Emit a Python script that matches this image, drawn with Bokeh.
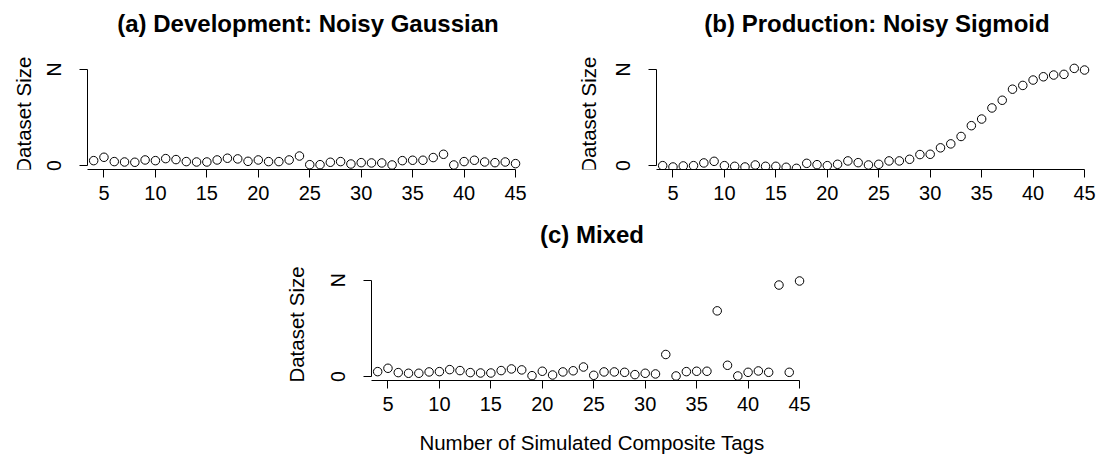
import math
from bokeh.plotting import figure
from bokeh.layouts import column, row
from bokeh.models import FixedTicker, Range1d, Label
from bokeh.embed import file_html
from bokeh.resources import INLINE

# ---- data (dataset size as fraction of N) ----
tags = [4, 5, 6, 7, 8, 9, 10, 11, 12, 13, 14, 15, 16, 17, 18, 19, 20, 21, 22, 23, 24,
        25, 26, 27, 28, 29, 30, 31, 32, 33, 34, 35, 36, 37, 38, 39, 40, 41, 42, 43, 44, 45]

gaussian = [0.052, 0.087, 0.042, 0.038, 0.035, 0.059, 0.052, 0.073, 0.063, 0.042, 0.038,
            0.038, 0.059, 0.077, 0.070, 0.045, 0.059, 0.042, 0.042, 0.059, 0.100, 0.010,
            0.010, 0.035, 0.042, 0.017, 0.031, 0.028, 0.028, 0.007, 0.052, 0.056, 0.056,
            0.084, 0.118, 0.007, 0.042, 0.056, 0.038, 0.031, 0.038, 0.021]

sigmoid = [0.000, -0.014, -0.003, 0.000, 0.028, 0.045, 0.000, -0.007, -0.014, 0.007, -0.007,
           -0.007, -0.017, -0.028, 0.024, 0.010, 0.000, 0.014, 0.049, 0.031, 0.007, 0.014,
           0.049, 0.049, 0.066, 0.115, 0.118, 0.185, 0.226, 0.303, 0.415, 0.484, 0.599,
           0.679, 0.794, 0.833, 0.889, 0.923, 0.941, 0.948, 1.010, 0.993]

mixed = [0.052, 0.087, 0.042, 0.035, 0.035, 0.049, 0.052, 0.073, 0.063, 0.042, 0.038,
         0.038, 0.063, 0.080, 0.070, 0.010, 0.056, 0.017, 0.049, 0.061, 0.100, 0.014,
         0.049, 0.049, 0.045, 0.021, 0.035, 0.028, 0.230, 0.007, 0.052, 0.056, 0.056,
         0.683, 0.118, 0.007, 0.045, 0.059, 0.045, 0.951, 0.045, 0.993]

x_ticks = [5, 10, 15, 20, 25, 30, 35, 40, 45]
y_ticks = [0, 1]
y_tick_labels = {0: "0", 1: "N"}

titles = ["(a) Development: Noisy Gaussian", "(b) Production: Noisy Sigmoid", "(c) Mixed"]
y_label = "Dataset Size"
x_label = "Number of Simulated Composite Tags"

FONT = "Liberation Sans"
X_RANGE = (3.4, 46.26)
X_MID = (3.4 + 46.26) / 2


def make_panel(title, ys, width, height, left, right, bottom, y_top, title_y):
    p = figure(width=width, height=height, output_backend="svg", toolbar_location=None,
               x_range=Range1d(*X_RANGE), y_range=Range1d(-0.04, y_top),
               min_border_left=left, min_border_right=right,
               min_border_top=0, min_border_bottom=bottom)
    p.outline_line_color = None
    p.grid.visible = False
    p.background_fill_color = "white"
    p.border_fill_color = "white"

    p.scatter(tags, ys, marker="circle", size=8.5, fill_color=None,
              line_color="black", line_width=1)

    p.add_layout(Label(x=X_MID, y=title_y, text=title, text_align="center",
                       text_baseline="middle", text_font=FONT,
                       text_font_size="24px", text_font_style="bold",
                       text_color="black"))

    xa = p.xaxis[0]
    xa.ticker = FixedTicker(ticks=x_ticks)
    xa.bounds = (3.4, 45)
    xa.axis_line_color = "black"
    xa.major_tick_line_color = "black"
    xa.major_tick_out = 8
    xa.major_tick_in = 0
    xa.minor_tick_line_color = None
    xa.major_label_text_font = FONT
    xa.major_label_text_font_size = "20px"
    xa.major_label_text_color = "black"
    xa.major_label_standoff = 8

    ya = p.yaxis[0]
    ya.ticker = FixedTicker(ticks=y_ticks)
    ya.major_label_overrides = y_tick_labels
    ya.bounds = (0, 1)
    ya.axis_line_color = "black"
    ya.major_tick_line_color = "black"
    ya.major_tick_out = 8
    ya.major_tick_in = 0
    ya.minor_tick_line_color = None
    ya.major_label_orientation = "vertical"
    ya.major_label_text_font = FONT
    ya.major_label_text_font_size = "19.5px"
    ya.major_label_text_color = "black"
    ya.major_label_standoff = 14
    return p


def text_fig(width, height, x_range, y_range, left, right, bottom,
             text, cx, cy, size, angle=0.0):
    f = figure(width=width, height=height, output_backend="svg", toolbar_location=None,
               x_range=Range1d(*x_range), y_range=Range1d(*y_range),
               x_axis_location=None, y_axis_location=None,
               min_border_left=left, min_border_right=right, min_border_top=0,
               min_border_bottom=bottom)
    f.outline_line_color = None
    f.grid.visible = False
    f.background_fill_color = "white"
    f.border_fill_color = "white"
    f.add_layout(Label(x=cx, y=cy, text=text, angle=angle, text_align="center",
                       text_baseline="middle", text_font=FONT, text_font_size=size,
                       text_color="black"))
    return f


VERT = math.pi / 2

pa = make_panel(titles[0], gaussian, 529, 215, 46, 41, 46, 1.715, 1.471)
pb = make_panel(titles[1], sigmoid, 488, 215, 46, 0, 46, 1.715, 1.471)
pc = make_panel(titles[2], mixed, 508, 207, 46, 20, 42, 1.673, 1.476)

# y-axis titles share the panels' vertical data scale
la = text_fig(40, 215, (0, 40), (-0.04, 1.715), 0, 0, 46, y_label, 23, 0.53, "20.5px", VERT)
lb = text_fig(40, 215, (0, 40), (-0.04, 1.715), 0, 0, 46, y_label, 18.5, 0.53, "20.5px", VERT)
lc = text_fig(324, 239, (0, 324), (239, 0), 0, 0, 0, y_label, 296, 109, "20.5px", VERT)
# x-axis title shares the mixed panel's horizontal data scale
lx = text_fig(508, 32, X_RANGE, (32, 0), 46, 20, 0, x_label, X_MID, 19.6, "20.5px")

layout = column(row(la, pa, lb, pb), row(lc, column(pc, lx)))

html = file_html(layout, INLINE)
open("out.html", "w").write(html)
